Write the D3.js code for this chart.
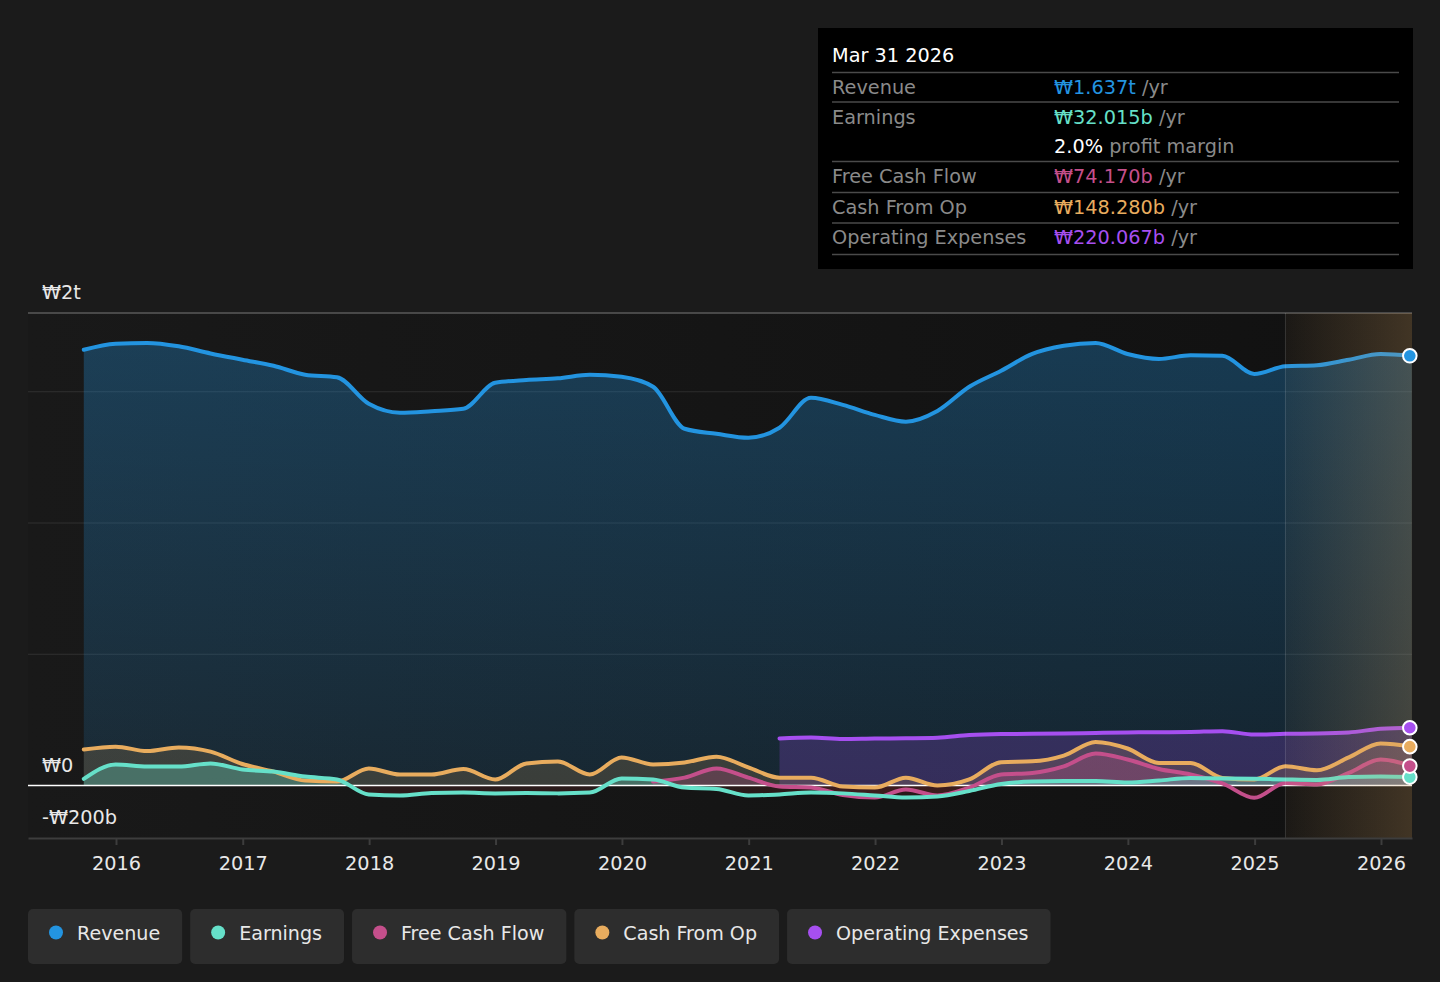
<!DOCTYPE html>
<html><head><meta charset="utf-8">
<script src="https://cdn.jsdelivr.net/npm/d3@7"></script>
<style>
body{margin:0;background:#1b1b1b;overflow:hidden;}
svg{display:block;font-family:"DejaVu Sans",sans-serif;}
</style>
</head><body>
<svg id="chart" width="1440" height="982"></svg>
<script>
// ---------- DATA (values in ₩ billions) ----------
const dates = [
 "2015-09-30","2015-12-31",
 "2016-03-31","2016-06-30","2016-09-30","2016-12-31",
 "2017-03-31","2017-06-30","2017-09-30","2017-12-31",
 "2018-03-31","2018-06-30","2018-09-30","2018-12-31",
 "2019-03-31","2019-06-30","2019-09-30","2019-12-31",
 "2020-03-31","2020-06-30","2020-09-30","2020-12-31",
 "2021-03-31","2021-06-30","2021-09-30","2021-12-31",
 "2022-03-31","2022-06-30","2022-09-30","2022-12-31",
 "2023-03-31","2023-06-30","2023-09-30","2023-12-31",
 "2024-03-31","2024-06-30","2024-09-30","2024-12-31",
 "2025-03-31","2025-06-30","2025-09-30","2025-12-31",
 "2026-03-31"];
const revenue = [1660,1683,1686,1673,1646,1622,1599,1565,1555,1454,1420,1426,1435,1534,1545,1551,1565,1557,1519,1359,1340,1325,1363,1477,1450,1412,1386,1427,1519,1580,1644,1675,1686,1644,1625,1639,1637,1568,1597,1601,1622,1644,1637];
const earnings = [25,80,72,72,84,61,53,34,23,-34,-38,-29,-27,-30,-29,-30,-27,27,23,-8,-13,-38,-34,-27,-30,-38,-46,-42,-21,6,15,17,17,11,19,29,27,26,23,21,32,34,32];
const freeCashFlow = [null,null,null,null,null,null,null,null,null,null,null,null,null,null,null,null,null,null,
 15,30,65,30,-4,-8,-36,-46,-15,-38,-8,42,48,73,122,99,63,42,8,-47,10,4,48,99,74];
const cashFromOp = [137,148,131,145,129,82,53,19,15,65,42,42,63,23,84,91,42,107,80,88,110,69,30,30,-4,-8,30,0,23,89,92,114,166,141,86,86,29,23,73,58,107,160,148];
const operatingExpenses = [null,null,null,null,null,null,null,null,null,null,null,null,null,null,null,null,null,null,null,null,null,null,
 179,183,177,179,180,182,192,196,197,198,200,202,203,204,207,194,197,198,202,216,220];

const seriesNames = ["Revenue","Earnings","Free Cash Flow","Cash From Op","Operating Expenses"];
const seriesColors = ["#2394e0","#66e0c9","#c44f8b","#e8ac5e","#a64ff0"];
const yTickValues = [-200, 0, 1800];
const yTickLabels = ["-₩200b","₩0","₩2t"];
const gridValues = [500, 1000, 1500];
const highlightStart = "2025-03-31";
const tipTitle = "Mar 31 2026";
const tipLabels = ["Revenue","Earnings","","Free Cash Flow","Cash From Op","Operating Expenses"];
const tipValues = ["₩1.637t","₩32.015b","2.0%","₩74.170b","₩148.280b","₩220.067b"];
const tipSuffix = [" /yr"," /yr"," profit margin"," /yr"," /yr"," /yr"];

// ---------- SETUP ----------
const parse = d3.utcParse("%Y-%m-%d");
const dts = dates.map(parse);
const svg = d3.select("#chart");
const L = 28, R = 1412, T = 313, B = 838;
const FS = 19.3;

const xBase = d3.scaleUtc().domain([new Date(Date.UTC(2016,0,1)), new Date(Date.UTC(2026,0,1))]).range([116,1381]);
const x = d3.scaleUtc().domain([xBase.invert(L), xBase.invert(R)]).range([L, R]);
const y = d3.scaleLinear().domain([-200, 1800]).range([B, T]);

const defs = svg.append("defs");
const bgGrad = defs.append("linearGradient").attr("id","bgGrad").attr("x1","0").attr("x2","1").attr("y1","0").attr("y2","0");
bgGrad.append("stop").attr("offset","0").attr("stop-color","#191919");
bgGrad.append("stop").attr("offset","1").attr("stop-color","#111111");

const revGrad = defs.append("linearGradient").attr("id","revGrad").attr("gradientUnits","userSpaceOnUse")
  .attr("x1",0).attr("x2",0).attr("y1",y(1700)).attr("y2",y(0));
revGrad.append("stop").attr("offset","0").attr("stop-color",seriesColors[0]).attr("stop-opacity",0.31);
revGrad.append("stop").attr("offset","1").attr("stop-color",seriesColors[0]).attr("stop-opacity",0.14);

const hlGrad = defs.append("linearGradient").attr("id","hlGrad").attr("x1","0").attr("x2","1").attr("y1","0").attr("y2","0");
hlGrad.append("stop").attr("offset","0").attr("stop-color","#d2a060").attr("stop-opacity",0.05);
hlGrad.append("stop").attr("offset","1").attr("stop-color","#d2a060").attr("stop-opacity",0.25);

defs.append("clipPath").attr("id","above").append("rect").attr("x",L).attr("y",T-20).attr("width",R-L).attr("height",y(0)-T+20);
defs.append("clipPath").attr("id","below").append("rect").attr("x",L).attr("y",y(0)).attr("width",R-L).attr("height",B-y(0));
defs.append("clipPath").attr("id","plot").append("rect").attr("x",L).attr("y",T-20).attr("width",R-L+10).attr("height",B-T+20);

// background
svg.append("rect").attr("x",L).attr("y",T).attr("width",R-L).attr("height",B-T).attr("fill","url(#bgGrad)");

// gridlines
svg.append("g").selectAll("line").data(gridValues).join("line")
  .attr("x1",L).attr("x2",R).attr("y1",d=>y(d)).attr("y2",d=>y(d))
  .attr("stroke","#ffffff").attr("stroke-opacity",0.1).attr("stroke-width",1);
svg.append("line").attr("x1",L).attr("x2",R).attr("y1",y(1800)).attr("y2",y(1800))
  .attr("stroke","#5a5a5a").attr("stroke-width",1.5);

// ---------- SERIES ----------
const allSeries = [revenue, earnings, freeCashFlow, cashFromOp, operatingExpenses];
const fillOpacity = [null, 0.3, 0.25, 0.17, 0.22];
const mk = arr => arr.map((v,i)=>({d:dts[i], v}));

const area = d3.area().defined(p=>p.v!==null).curve(d3.curveMonotoneX)
  .x(p=>x(p.d)).y0(y(0)).y1(p=>y(p.v));
const line = d3.line().defined(p=>p.v!==null).curve(d3.curveMonotoneX)
  .x(p=>x(p.d)).y(p=>y(p.v));

const gArea = svg.append("g").attr("clip-path","url(#plot)");
gArea.append("path").datum(mk(revenue)).attr("d",area).attr("fill","url(#revGrad)");
const order = [4,3,2,1];
order.forEach(k=>{
  const data = mk(allSeries[k]);
  gArea.append("path").datum(data).attr("d",area).attr("clip-path","url(#above)")
    .attr("fill",seriesColors[k]).attr("fill-opacity",fillOpacity[k]);
  gArea.append("path").datum(data).attr("d",area).attr("clip-path","url(#below)")
    .attr("fill","#ff4a4a").attr("fill-opacity",0.09);
});

// zero line
svg.append("line").attr("x1",L).attr("x2",R).attr("y1",y(0)).attr("y2",y(0))
  .attr("stroke","#ffffff").attr("stroke-width",1.6);

// lines
const gLine = svg.append("g").attr("clip-path","url(#plot)");
[0,4,3,2,1].forEach(k=>{
  gLine.append("path").datum(mk(allSeries[k])).attr("d",line)
    .attr("fill","none").attr("stroke",seriesColors[k]).attr("stroke-width",4)
    .attr("stroke-linejoin","round").attr("stroke-linecap","round");
});

// highlight region
const hx = x(parse(highlightStart));
svg.append("rect").attr("x",hx).attr("y",T).attr("width",R-hx).attr("height",B-T).attr("fill","url(#hlGrad)");
svg.append("line").attr("x1",hx).attr("x2",hx).attr("y1",T).attr("y2",B).attr("stroke","#ffffff").attr("stroke-opacity",0.14).attr("stroke-width",1);

// end dots
const lastIdx = dates.length-1;
[1,2,3,4,0].forEach(k=>{
  svg.append("circle").attr("cx",x(dts[lastIdx])-2).attr("cy",y(allSeries[k][lastIdx]))
    .attr("r",6.8).attr("fill",seriesColors[k]).attr("stroke","#ffffff").attr("stroke-width",2);
});

// ---------- AXES ----------
const xAxis = d3.axisBottom(x).ticks(d3.utcYear.every(1)).tickFormat(d3.utcFormat("%Y")).tickSize(7).tickPadding(11).tickSizeOuter(0);
const gx = svg.append("g").attr("transform",`translate(0,${B})`).call(xAxis);
gx.select(".domain").attr("stroke","#3d3d3d").attr("stroke-width",2);
gx.selectAll(".tick line").attr("stroke","#3d3d3d").attr("stroke-width",2);
gx.selectAll(".tick text").attr("fill","#e8e8e8").attr("font-size",FS).attr("font-family","DejaVu Sans");

svg.append("g").selectAll("text").data(yTickValues).join("text")
  .attr("x",42).attr("y",d=>y(d)-14).attr("fill","#e8e8e8").attr("font-size",FS)
  .text((d,i)=>yTickLabels[i]);

// ---------- TOOLTIP ----------
const tip = svg.append("g");
tip.append("rect").attr("x",818).attr("y",28).attr("width",595).attr("height",241).attr("fill","#000000");
tip.append("text").attr("x",832).attr("y",62).attr("fill","#ffffff").attr("font-size",FS).text(tipTitle);
const sepY = [72.5,102,161.5,192.5,223,254.5];
tip.selectAll("line").data(sepY).join("line").attr("x1",832).attr("x2",1399).attr("y1",d=>d).attr("y2",d=>d)
  .attr("stroke","#4a4a4a").attr("stroke-width",1.5);
const rowY = [94,123.5,153,183,214,244];
const tipColors = [seriesColors[0],seriesColors[1],"#ffffff",seriesColors[2],seriesColors[3],seriesColors[4]];
tipLabels.forEach((lab,i)=>{
  if(lab) tip.append("text").attr("x",832).attr("y",rowY[i]).attr("fill","#8a8a8a").attr("font-size",FS).text(lab);
  const t = tip.append("text").attr("x",1054).attr("y",rowY[i]).attr("font-size",FS);
  t.append("tspan").attr("fill",tipColors[i]).text(tipValues[i]);
  t.append("tspan").attr("fill","#8a8a8a").text(tipSuffix[i]);
});

// ---------- LEGEND ----------
const leg = svg.append("g");
let lx = 28;
seriesNames.forEach((n,i)=>{
  const g = leg.append("g");
  const r = g.append("rect").attr("x",lx).attr("y",909).attr("height",55).attr("rx",5).attr("fill","#2d2d2d");
  g.append("circle").attr("cx",lx+28).attr("cy",932.5).attr("r",7).attr("fill",seriesColors[i]);
  const t = g.append("text").attr("x",lx+49).attr("y",940).attr("fill","#e8e8e8").attr("font-size",19.1).text(n);
  const w = t.node().getComputedTextLength();
  const bw = 49 + w + 22;
  r.attr("width",bw);
  lx += bw + 8;
});
</script>
</body></html>
